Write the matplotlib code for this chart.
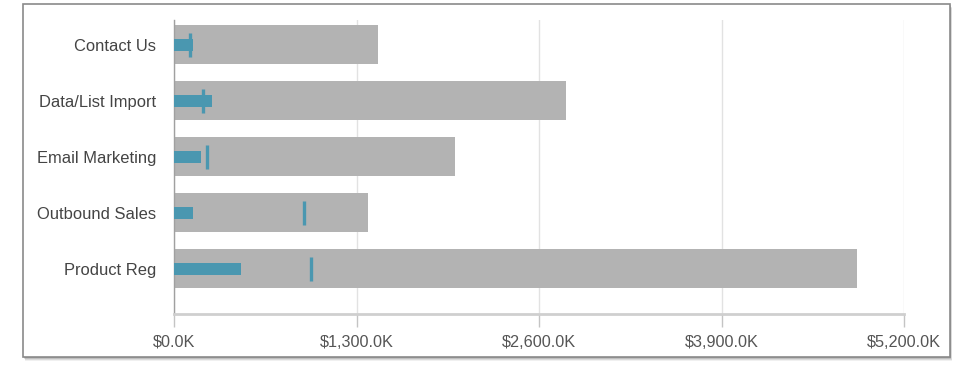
import numpy as np
import matplotlib.pyplot as plt
from matplotlib.patches import Rectangle

categories = ['Contact Us', 'Data/List Import', 'Email Marketing', 'Outbound Sales', 'Product Reg']
ranges = [1455, 2790, 2000, 1385, 4865]
actuals = [138, 271, 193, 136, 478]
targets = [114, 207, 235, 927, 977]
xticks = [0, 1300, 2600, 3900, 5200]

plt.rcParams['font.family'] = ['Liberation Sans', 'DejaVu Sans']

fig = plt.figure(figsize=(9.59, 3.69), dpi=100)
W, H = 959.0, 369.0

# frame with soft shadow
for i, a in enumerate([0.06, 0.09, 0.12, 0.16]):
    off = 4 - i
    fig.patches.append(Rectangle(((23 + off * 0.5) / W, 1 - (357 + off) / H), 927 / W, 353 / H,
                                 transform=fig.transFigure, facecolor='#000000', alpha=a,
                                 edgecolor='none', zorder=0))
fig.patches.append(Rectangle((23 / W, 1 - 357 / H), 927 / W, 353 / H, transform=fig.transFigure,
                             facecolor='white', edgecolor='#8a8a8a', lw=1.2, zorder=0.5))

ax = fig.add_axes([174 / W, 1 - 314 / H, 730 / W, 294 / H])
ax.set_zorder(2)
ax.set_facecolor('none')

y = np.arange(len(categories))
ax.barh(y, ranges, height=0.7, color='#b3b3b3', zorder=2)
ax.barh(y, actuals, height=0.21, color='#4a97b0', zorder=3)
ax.vlines(targets, y - 0.215, y + 0.215, color='#4a97b0', lw=2.4, zorder=4)

ax.set_xlim(0, 5200)
ax.set_ylim(4.81, -0.44)
ax.set_xticks(xticks)
ax.set_xticklabels(['$%s.0K' % format(v, ',') for v in xticks])
ax.set_yticks(y)
ax.set_yticklabels(categories)

ax.grid(axis='x', color='#e2e2e2', lw=1, zorder=1)
ax.set_axisbelow(True)
ax.tick_params(axis='x', length=9, color='#c4c4c4', width=1, pad=6, labelsize=11.7, labelcolor='#555555')
ax.tick_params(axis='y', length=0, pad=13, labelsize=11.9, labelcolor='#444444')

for s in ['top', 'right']:
    ax.spines[s].set_visible(False)
ax.spines['left'].set_color('#a0a0a0')
ax.spines['left'].set_linewidth(1)
ax.spines['bottom'].set_color('#cfcfcf')
ax.spines['bottom'].set_linewidth(2)

fig.savefig('out.png', dpi=100)
